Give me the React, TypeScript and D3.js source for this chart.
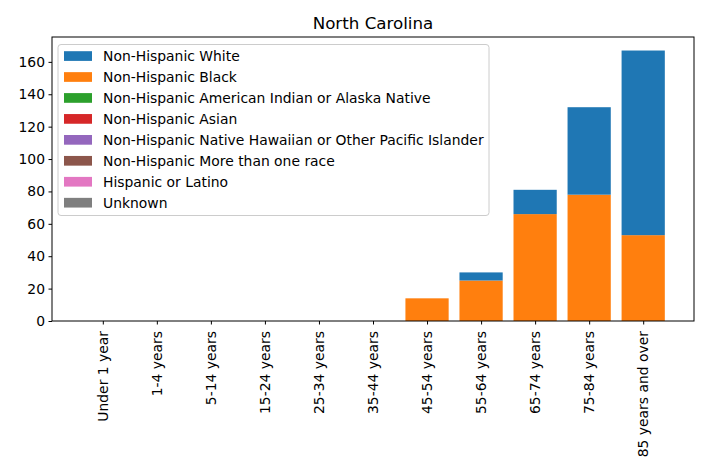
import React, { useEffect, useRef } from 'react';
import * as d3 from 'd3';

const width = 708;
const height = 472;
const margin = { top: 37, right: 14, bottom: 151, left: 52 };

// age groups along the x axis
const ageGroups = [
  'Under 1 year', '1-4 years', '5-14 years', '15-24 years', '25-34 years',
  '35-44 years', '45-54 years', '55-64 years', '65-74 years', '75-84 years',
  '85 years and over',
];

const raceNames = [
  'Non-Hispanic White',
  'Non-Hispanic Black',
  'Non-Hispanic American Indian or Alaska Native',
  'Non-Hispanic Asian',
  'Non-Hispanic Native Hawaiian or Other Pacific Islander',
  'Non-Hispanic More than one race',
  'Hispanic or Latino',
  'Unknown',
];

const raceColors = ['#1f77b4', '#ff7f0e', '#2ca02c', '#d62728', '#9467bd', '#8c564b', '#e377c2', '#7f7f7f'];

// counts per age group, one array per race
const white = [0, 0, 0, 0, 0, 0, 0, 5, 15, 54, 114];
const black = [0, 0, 0, 0, 0, 0, 14, 25, 66, 78, 53];
const amIndian = [0, 0, 0, 0, 0, 0, 0, 0, 0, 0, 0];
const asian = [0, 0, 0, 0, 0, 0, 0, 0, 0, 0, 0];
const pacific = [0, 0, 0, 0, 0, 0, 0, 0, 0, 0, 0];
const multi = [0, 0, 0, 0, 0, 0, 0, 0, 0, 0, 0];
const hispanic = [0, 0, 0, 0, 0, 0, 0, 0, 0, 0, 0];
const unknown = [0, 0, 0, 0, 0, 0, 0, 0, 0, 0, 0];

const yTicks = [0, 20, 40, 60, 80, 100, 120, 140, 160];

// white sits on top of black; the other groups are all zero
const zeros = ageGroups.map(() => 0);
const series = [
  { name: raceNames[1], color: raceColors[1], values: black, base: zeros },
  { name: raceNames[0], color: raceColors[0], values: white, base: black },
  { name: raceNames[2], color: raceColors[2], values: amIndian, base: zeros },
  { name: raceNames[3], color: raceColors[3], values: asian, base: zeros },
  { name: raceNames[4], color: raceColors[4], values: pacific, base: zeros },
  { name: raceNames[5], color: raceColors[5], values: multi, base: zeros },
  { name: raceNames[6], color: raceColors[6], values: hispanic, base: zeros },
  { name: raceNames[7], color: raceColors[7], values: unknown, base: zeros },
];

const font = 'DejaVu Sans, sans-serif';

const App = () => {
  const ref = useRef<SVGSVGElement>(null);

  useEffect(() => {
    const svg = d3.select(ref.current);
    svg.selectAll('*').remove();

    const plotW = width - margin.left - margin.right;
    const plotH = height - margin.top - margin.bottom;
    const n = ageGroups.length;

    // like matplotlib: bar width 0.8, 5% margins
    const span = (n - 1) + 0.8;
    const x = d3.scaleLinear()
      .domain([-0.4 - span * 0.05, n - 1 + 0.4 + span * 0.05])
      .range([margin.left, margin.left + plotW]);

    const totals = ageGroups.map((_, i) => white[i] + black[i]);
    const yMax = (d3.max(totals) || 1) * 1.05;
    const y = d3.scaleLinear().domain([0, yMax]).range([margin.top + plotH, margin.top]);

    const bw = x(0.8) - x(0);

    // bars
    series.forEach(s => {
      svg.append('g')
        .selectAll('rect')
        .data(s.values.map((v, i) => ({ v, i, b: s.base[i] })).filter(d => d.v > 0))
        .join('rect')
        .attr('x', d => x(d.i - 0.4))
        .attr('width', bw)
        .attr('y', d => y(d.b + d.v))
        .attr('height', d => y(d.b) - y(d.b + d.v))
        .attr('fill', s.color);
    });

    // axes
    const xAxis = d3.axisBottom(x)
      .tickValues(d3.range(n))
      .tickFormat(i => ageGroups[i as number])
      .tickSize(3.5)
      .tickPadding(3.5);
    const gx = svg.append('g')
      .attr('transform', `translate(0, ${margin.top + plotH})`)
      .call(xAxis);
    gx.select('.domain').remove();
    gx.selectAll('.tick line').attr('stroke', '#000');
    gx.selectAll('.tick text')
      .attr('font-family', font)
      .attr('font-size', 13.9)
      .attr('fill', '#000')
      .attr('transform', 'rotate(-90)')
      .attr('text-anchor', 'end')
      .attr('dy', '0.32em')
      .attr('x', -10)
      .attr('y', 0);

    const yAxis = d3.axisLeft(y)
      .tickValues(yTicks)
      .tickSize(3.5)
      .tickPadding(3.5);
    const gy = svg.append('g')
      .attr('transform', `translate(${margin.left}, 0)`)
      .call(yAxis);
    gy.select('.domain').remove();
    gy.selectAll('.tick line').attr('stroke', '#000');
    gy.selectAll('.tick text')
      .attr('font-family', font)
      .attr('font-size', 13.9)
      .attr('fill', '#000');

    // frame
    svg.append('rect')
      .attr('x', margin.left)
      .attr('y', margin.top)
      .attr('width', plotW)
      .attr('height', plotH)
      .attr('fill', 'none')
      .attr('stroke', '#000')
      .attr('stroke-width', 1);

    // title
    svg.append('text')
      .attr('x', margin.left + plotW / 2)
      .attr('y', margin.top - 8)
      .attr('text-anchor', 'middle')
      .attr('font-family', font)
      .attr('font-size', 16.7)
      .text('North Carolina');

    // legend
    const lg = svg.append('g').attr('transform', `translate(${margin.left + 6}, ${margin.top + 7.5})`);
    lg.append('rect')
      .attr('width', 431)
      .attr('height', 171)
      .attr('rx', 3)
      .attr('fill', '#fff')
      .attr('fill-opacity', 0.8)
      .attr('stroke', '#ccc');
    raceNames.forEach((name, i) => {
      const cy = 11.5 + i * 20.95;
      lg.append('rect')
        .attr('x', 6)
        .attr('y', cy - 4.8)
        .attr('width', 28)
        .attr('height', 9.7)
        .attr('fill', raceColors[i]);
      lg.append('text')
        .attr('x', 45)
        .attr('y', cy)
        .attr('dy', '0.35em')
        .attr('font-family', font)
        .attr('font-size', 13.9)
        .attr('fill', '#000')
        .text(name);
    });
  }, []);

  return (
    <svg ref={ref} width={width} height={height} style={{ display: 'block', margin: -8, background: '#fff' }} />
  );
};

export default App;
